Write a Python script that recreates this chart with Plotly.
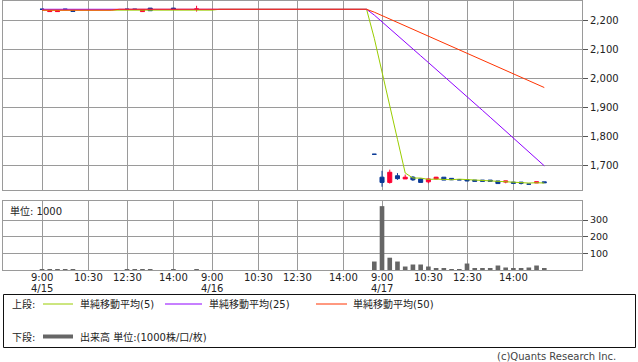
import plotly.graph_objects as go

# ---------------- data ----------------
DAYS = ["4/15", "4/16", "4/17"]
TIMES = ["9:00", "9:15", "9:30", "9:45", "10:00", "10:15", "10:30", "10:45", "11:00", "11:15", "11:30",
         "12:30", "12:45", "13:00", "13:15", "13:30", "13:45", "14:00", "14:15", "14:30", "14:45", "15:00"]
TICK_TIMES = ["9:00", "10:30", "12:30", "14:00"]
SLOTS = [f"{d} {t}" for d in DAYS for t in TIMES]

candle_slots = ["4/15 9:00", "4/15 9:15", "4/15 9:30", "4/15 9:45", "4/15 10:00",
                "4/15 12:30", "4/15 12:45", "4/15 13:00", "4/15 13:15", "4/15 14:00", "4/15 14:45",
                "4/16 15:00",
                "4/17 9:00", "4/17 9:15", "4/17 9:30", "4/17 9:45", "4/17 10:00", "4/17 10:15",
                "4/17 10:30", "4/17 10:45", "4/17 11:00", "4/17 11:15", "4/17 11:30",
                "4/17 12:30", "4/17 12:45", "4/17 13:00", "4/17 13:15", "4/17 13:30", "4/17 13:45",
                "4/17 14:00", "4/17 14:15", "4/17 14:30", "4/17 14:45", "4/17 15:00"]
opens = [2237, 2229, 2229, 2237, 2232, 2237, 2237, 2229, 2241, 2241, 2237,
         1737,
         1658, 1640, 1663, 1652, 1658, 1652, 1642, 1652, 1658, 1654, 1649,
         1650, 1648, 1648, 1648, 1645, 1641, 1641, 1641, 1634, 1638, 1642]
highs = [2237, 2231, 2231, 2237, 2232, 2237, 2237, 2235, 2241, 2241, 2249,
         1737,
         1680, 1684, 1672, 1667, 1662, 1653, 1653, 1659, 1658, 1654, 1649,
         1650, 1648, 1648, 1648, 1645, 1645, 1641, 1641, 1634, 1642, 1642]
lows = [2237, 2229, 2229, 2237, 2230, 2237, 2237, 2229, 2232, 2237, 2229,
        1737,
        1625, 1636, 1649, 1652, 1645, 1640, 1637, 1650, 1648, 1649, 1649,
        1644, 1644, 1644, 1644, 1636, 1637, 1637, 1633, 1634, 1638, 1639]
closes = [2237, 2231, 2231, 2237, 2230, 2237, 2237, 2235, 2232, 2237, 2238,
          1737,
          1640, 1675, 1653, 1658, 1649, 1640, 1652, 1658, 1648, 1649, 1649,
          1645, 1644, 1644, 1644, 1636, 1645, 1637, 1637, 1634, 1642, 1639]
volumes = [5, 4, 4, 3, 4, 3, 4, 5, 4, 3, 4,
           51,
           384, 74, 51, 21, 33, 33, 21, 9, 9, 4, 4,
           39, 9, 9, 9, 27, 15, 9, 9, 15, 27, 9]

day3_slots = candle_slots[11:]
ma5_slots = ["4/15 9:00", "4/16 9:00", "4/16 9:15", "4/16 14:45"] + day3_slots
ma5 = [2234, 2234, 2237, 2237,
       2137, 2017.6, 1905.2, 1788.4, 1672.6, 1655, 1655, 1650.4, 1651.4, 1649.4, 1649.4, 1651.2,
       1649.8, 1647, 1646.2, 1645.2, 1642.6, 1642.6, 1641.2, 1639.8, 1637.8, 1639, 1637.8]
ma25_slots = ["4/15 9:00", "4/16 14:45"] + day3_slots
ma25 = [2237, 2237,
        2217, 2193.1, 2170.6, 2147.3, 2124.1, 2100.6, 2076.7, 2053.3, 2030.2, 2006.6, 1983.1,
        1959.6, 1935.9, 1912.2, 1888.4, 1864.7, 1840.7, 1817.0, 1793.0, 1769.0, 1744.9, 1721.1, 1697.2]
ma50_slots = ["4/15 9:00", "4/15 11:15", "4/15 11:30", "4/16 14:45"] + day3_slots
ma50 = [2234, 2234, 2237, 2237,
        2227, 2215.1, 2203.8, 2192.1, 2180.6, 2168.8, 2156.9, 2145.2, 2133.6, 2121.8, 2110.0,
        2098.3, 2086.4, 2074.6, 2062.7, 2050.9, 2038.8, 2027.0, 2015.0, 2003.0, 1990.9, 1979.0, 1967.1]

price_ticks = [1700, 1800, 1900, 2000, 2100, 2200]
volume_ticks = [100, 200, 300]

# ---------------- styling ----------------
W, H = 638, 362
ML, MR, MT, MB = 3, 56, 1, 92
PW, PH = W - ML - MR, H - MT - MB
UP, DOWN = "#ff0033", "#0a3a96"
C5, C25, C50 = "#99cc00", "#8f00ff", "#ff3300"
VOLC = "#666666"
GRID = "#9a9a9a"
TXT = "#222222"
FONT = "DejaVu Sans, Noto Sans CJK JP"


def pxx(x):
    return (x - ML) / PW


def pxy(y):
    return (MT + PH - y) / PH


up_idx = [i for i in range(len(opens)) if closes[i] > opens[i]]
dn_idx = [i for i in range(len(opens)) if closes[i] <= opens[i]]

fig = go.Figure()
for idx, col in ((up_idx, UP), (dn_idx, DOWN)):
    fig.add_trace(go.Candlestick(
        x=[candle_slots[i] for i in idx],
        open=[opens[i] for i in idx], high=[highs[i] for i in idx],
        low=[lows[i] for i in idx], close=[closes[i] for i in idx],
        increasing=dict(line=dict(color=col, width=1), fillcolor=col),
        decreasing=dict(line=dict(color=col, width=1), fillcolor=col),
        whiskerwidth=0, xaxis="x", yaxis="y", showlegend=False, hoverinfo="skip"))

for xs, ys, col in ((ma5_slots, ma5, C5), (ma25_slots, ma25, C25), (ma50_slots, ma50, C50)):
    fig.add_trace(go.Scatter(x=xs, y=ys, mode="lines", line=dict(color=col, width=1),
                             xaxis="x", yaxis="y", showlegend=False, hoverinfo="skip"))

fig.add_trace(go.Bar(x=candle_slots, y=volumes, marker=dict(color=VOLC, line=dict(width=0)),
                     width=0.6, xaxis="x2", yaxis="y2", showlegend=False, hoverinfo="skip"))

tickvals = [f"{d} {t}" for d in DAYS for t in TICK_TIMES]
ticktext = [t for d in DAYS for t in TICK_TIMES]
xrange = [-5.05, 69.88]

axis_common = dict(type="category", categoryorder="array", categoryarray=SLOTS, range=xrange,
                   tickvals=tickvals, ticktext=ticktext, showgrid=True, gridcolor=GRID, gridwidth=1,
                   showline=True, linecolor=GRID, linewidth=1, mirror=True, ticks="",
                   zeroline=False, fixedrange=True)

fig.update_layout(
    width=W, height=H, margin=dict(l=ML, r=MR, t=MT, b=MB),
    paper_bgcolor="white", plot_bgcolor="white",
    font=dict(family=FONT, size=10, color=TXT),
    boxgap=0.25,
    xaxis=dict(axis_common, anchor="y", showticklabels=False, rangeslider=dict(visible=False)),
    xaxis2=dict(axis_common, anchor="y2", showticklabels=False, rangeslider=dict(visible=False)),
    yaxis=dict(domain=[pxy(190.3), 1], range=[1612.8, 2265.5], side="right", tickvals=price_ticks,
               tickformat=",", ticks="outside", ticklen=5, tickcolor="#555555",
               showgrid=True, gridcolor=GRID, showline=True, linecolor=GRID, mirror=True,
               zeroline=False, tickfont=dict(size=10, color=TXT), fixedrange=True),
    yaxis2=dict(domain=[0, pxy(201)], range=[0, 415], side="right", tickvals=volume_ticks,
                ticks="outside", ticklen=5, tickcolor="#555555",
                showgrid=True, gridcolor=GRID, showline=True, linecolor=GRID, mirror=True,
                zeroline=False, tickfont=dict(size=9.5, color=TXT), fixedrange=True),
)

annotations = []
# time tick labels under the volume panel, and the date under each 9:00
for v, t in zip(tickvals, ticktext):
    annotations.append(dict(x=v, xref="x2", y=pxy(277), yref="paper", text=t,
                            showarrow=False, xanchor="center", yanchor="middle",
                            font=dict(size=10, color=TXT)))
for d in DAYS:
    annotations.append(dict(x=f"{d} 9:00", xref="x2", y=pxy(288), yref="paper", text=d,
                            showarrow=False, xanchor="center", yanchor="middle",
                            font=dict(size=10, color=TXT)))
annotations.append(dict(x=pxx(8), xref="paper", y=pxy(210.5), yref="paper", text="単位: 1000",
                        showarrow=False, xanchor="left", yanchor="middle", font=dict(size=10, color=TXT)))

row1, row2 = 304, 336.5
legend_items = [("上段:", 10, row1), ("単純移動平均(5)", 78, row1), ("単純移動平均(25)", 207, row1),
                ("単純移動平均(50)", 351, row1), ("下段:", 10, row2),
                ("出来高 単位:(1000株/口/枚)", 78, row2)]
for text, x0, y0 in legend_items:
    annotations.append(dict(x=pxx(x0), xref="paper", y=pxy(y0), yref="paper", text=text,
                            showarrow=False, xanchor="left", yanchor="middle",
                            font=dict(size=10, color=TXT)))
annotations.append(dict(x=pxx(618), xref="paper", y=pxy(356), yref="paper",
                        text="(c)Quants Research Inc.", showarrow=False, xanchor="right",
                        yanchor="middle", font=dict(size=10, color="#444444")))

shapes = [dict(type="rect", xref="paper", yref="paper", x0=pxx(3.5), x1=pxx(635.5),
               y0=pxy(294.5), y1=pxy(347.5), line=dict(color="#111111", width=1))]
for x0, x1, y0, col, wdt in ((43, 73, row1, C5, 1), (165, 202, row1, C25, 1),
                             (316, 347, row1, C50, 1), (43, 73, row2, VOLC, 4)):
    shapes.append(dict(type="line", xref="paper", yref="paper", x0=pxx(x0), x1=pxx(x1),
                       y0=pxy(y0), y1=pxy(y0), line=dict(color=col, width=wdt)))

fig.update_layout(annotations=annotations, shapes=shapes)
fig.write_html("out.html")
